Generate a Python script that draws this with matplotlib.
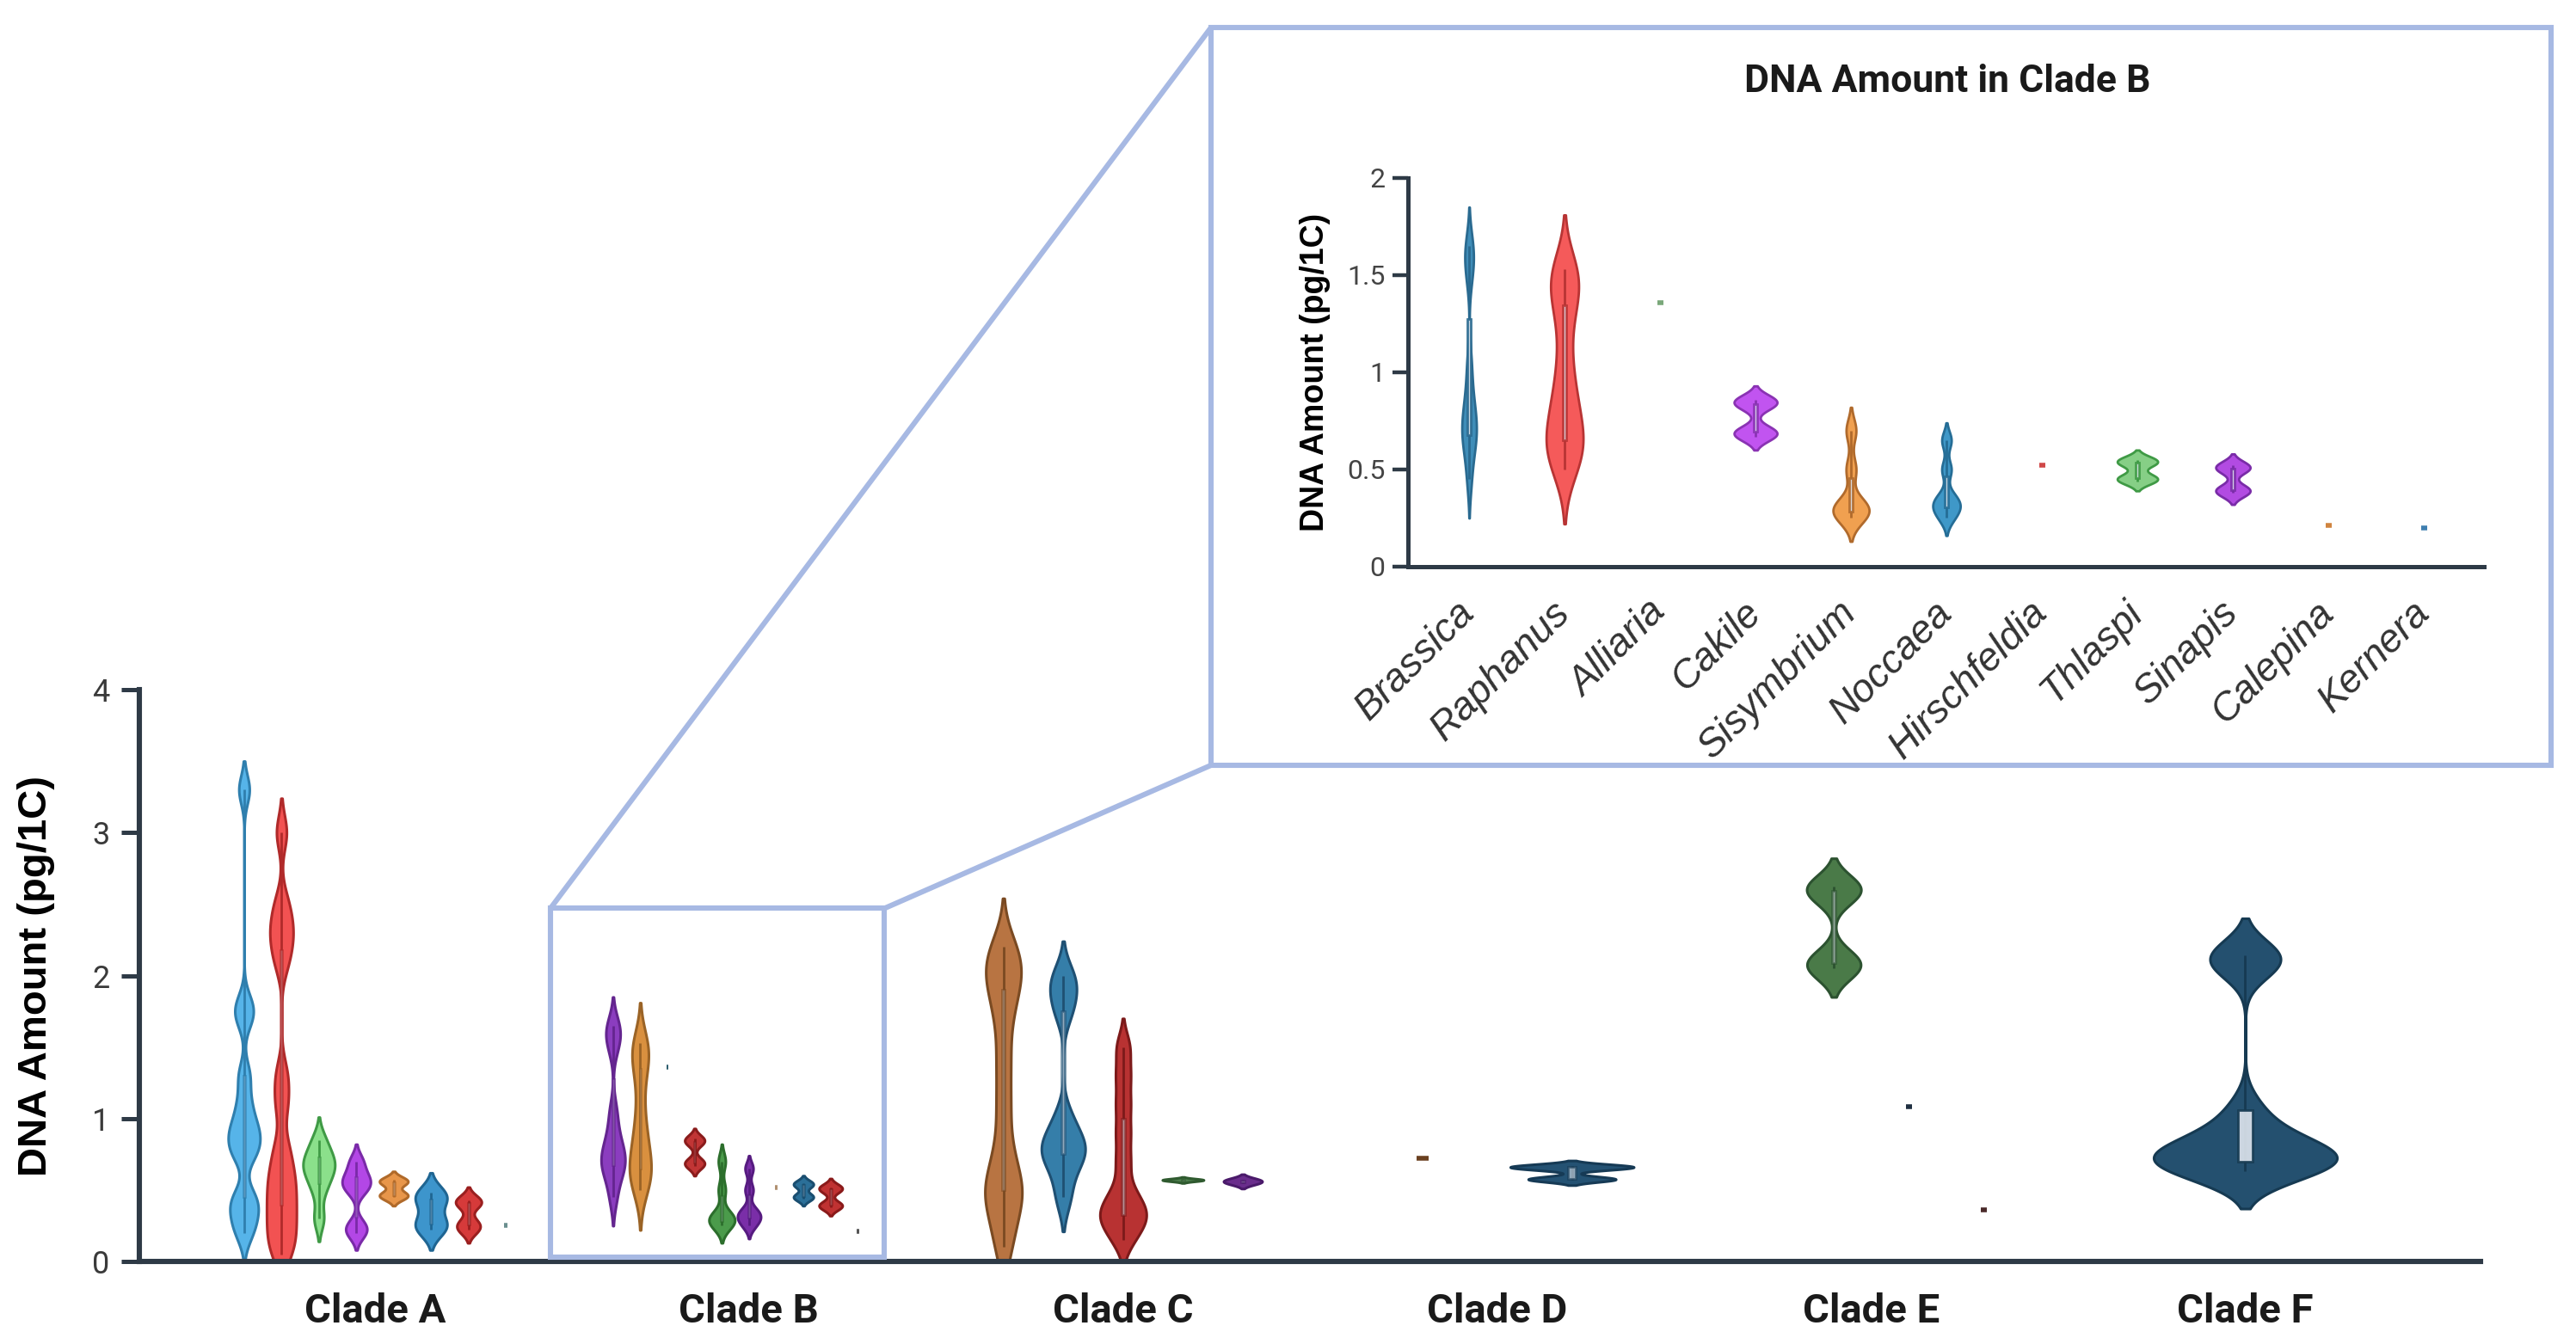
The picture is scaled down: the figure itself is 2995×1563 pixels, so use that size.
import numpy as np
import matplotlib
matplotlib.use("Agg")
import matplotlib.pyplot as plt
from matplotlib.patches import Rectangle, ConnectionPatch

# DNA amount (pg/1C) per genus, grouped by clade
clades = ["Clade A", "Clade B", "Clade C", "Clade D", "Clade E", "Clade F"]

clade_a = [
    [0.2, 0.3, 0.4, 0.45, 0.75, 0.8, 0.9, 0.95, 1.1, 1.3, 1.7, 1.8, 3.3],
    [0.05, 0.15, 0.25, 0.35, 0.45, 0.55, 0.65, 0.8, 1.1, 1.3, 2.1, 2.25, 2.35, 2.5, 3.0],
    [0.3, 0.5, 0.6, 0.65, 0.7, 0.75, 0.85],
    [0.2, 0.25, 0.5, 0.55, 0.6, 0.7],
    [0.45, 0.47, 0.55, 0.57],
    [0.22, 0.28, 0.42, 0.48],
    [0.22, 0.27, 0.4, 0.43],
    [0.25],
]

# Clade B genera (also shown in the inset)
genera_b = ["Brassica", "Raphanus", "Alliaria", "Cakile", "Sisymbrium", "Noccaea",
            "Hirschfeldia", "Thlaspi", "Sinapis", "Calepina", "Kernera"]
brassica = [0.45, 0.6, 0.65, 0.7, 0.75, 0.8, 0.9, 1.05, 1.5, 1.6, 1.65]
raphanus = [0.5, 0.6, 0.62, 0.68, 0.8, 0.88, 1.05, 1.27, 1.42, 1.48, 1.53]
alliaria = [1.36]
cakile = [0.67, 0.7, 0.83, 0.86]
sisymbrium = [0.25, 0.28, 0.3, 0.32, 0.5, 0.7]
noccaea = [0.25, 0.3, 0.32, 0.36, 0.5, 0.65]
hirschfeldia = [0.52]
thlaspi = [0.44, 0.46, 0.53, 0.55]
sinapis = [0.38, 0.4, 0.5, 0.52]
calepina = [0.21]
kernera = [0.2]
clade_b = [brassica, raphanus, alliaria, cakile, sisymbrium, noccaea,
           hirschfeldia, thlaspi, sinapis, calepina, kernera]

clade_c = [
    [0.1, 0.3, 0.45, 0.5, 0.6, 0.8, 1.1, 1.4, 1.7, 1.9, 2.0, 2.1, 2.2],
    [0.45, 0.65, 0.75, 0.8, 0.85, 1.0, 1.75, 1.9, 2.0],
    [0.15, 0.25, 0.3, 0.35, 0.4, 0.5, 0.7, 0.9, 1.1, 1.3, 1.5],
    [0.565, 0.57, 0.575],
    [0.55, 0.57],
]
clade_d = [[0.72], [0.57, 0.58, 0.65, 0.66, 0.67]]
clade_e = [[], [2.05, 2.1, 2.58, 2.62], [1.08], [0.36]]
clade_f = [[0.63, 0.65, 0.67, 0.7, 0.72, 0.74, 0.77, 0.82, 0.9, 1.06, 2.08, 2.12, 2.14]]

main_groups = [clade_a, clade_b, clade_c, clade_d, clade_e, clade_f]

# styling: face / edge colours, max violin widths, kde bandwidths
faces = [
    ["#56b4e9", "#f25252", "#8be08b", "#b347e6", "#e8964a", "#3d95cc", "#d63a3a", "#6a8f8f"],
    ["#8b3dbf", "#d9903f", "#2f5f70", "#c13535", "#4b9b4b", "#7a2ea8", "#b09070", "#2b6f98", "#c03232", "#555555", "#56607a"],
    ["#b87442", "#357ea9", "#b83232", "#4e7f4e", "#6a2d8c"],
    ["#8a5a3a", "#245273"],
    ["#ffffff", "#4a7a48", "#1f2f40", "#4a2a2a"],
    ["#24506f"],
]
edges = [
    ["#2f7fae", "#b02a2a", "#3f9a45", "#7a2aa8", "#b06a2a", "#1f6592", "#9a1f1f", "#6a8f8f"],
    ["#64258f", "#9a6326", "#2f5f70", "#8a1c1c", "#2c6e2c", "#561b80", "#b09070", "#1a4e70", "#8a1a1a", "#555555", "#56607a"],
    ["#7a4a22", "#1f5073", "#7c1a1a", "#2f5a2f", "#4a1a6a"],
    ["#6a4020", "#163a55"],
    ["#ffffff", "#2c5230", "#1f2f40", "#4a2a2a"],
    ["#163a52"],
]
b_bw = [0.1, 0.14, 0, 0.035, 0.06, 0.045, 0, 0.025, 0.03, 0, 0]
bws = [
    [0.1, 0.12, 0.08, 0.06, 0.03, 0.07, 0.045, 0],
    b_bw,
    [0.17, 0.12, 0.1, 0.008, 0.02],
    [0, 0.018],
    [0, 0.1, 0, 0],
    [0.13],
]
widths = [
    [0.085, 0.080, 0.085, 0.076, 0.076, 0.085, 0.069, 0],
    [0.064, 0.058, 0, 0.053, 0.069, 0.062, 0, 0.053, 0.062, 0, 0],
    [0.099, 0.117, 0.124, 0.110, 0.103],
    [0, 0.33],
    [0, 0.145, 0, 0],
    [0.49],
]

inset_faces = ["#3f8db8", "#f55a5a", "#7aa87a", "#c154f0", "#f0a050", "#3f98c8",
               "#d04848", "#86cf86", "#b24be2", "#d0843f", "#3f7fb0"]
inset_edges = ["#2a6a90", "#b83434", "#7aa87a", "#8a33b3", "#b06a2c", "#256d96",
               "#d04848", "#3f9a45", "#7a2ca8", "#d0843f", "#3f7fb0"]
inset_widths = [0.153, 0.387, 0, 0.45, 0.378, 0.288, 0, 0.423, 0.36, 0, 0]

frame_color = "#a7b9e3"
spine_color = "#2e3a46"


def kde_stats(values, bw):
    v = np.asarray(values, dtype=float)
    y = np.linspace(v.min() - 2 * bw, v.max() + 2 * bw, 400)
    dens = np.exp(-0.5 * ((y[:, None] - v[None, :]) / bw) ** 2).sum(axis=1)
    return dict(coords=y, vals=dens, mean=v.mean(), median=np.median(v),
                min=v.min(), max=v.max())


def draw_group(ax, groups, positions, slot, fcs, ecs, wids, bw_list, lw=1.1):
    for vals, x, fc, ec, w, bw in zip(groups, positions, fcs, ecs, wids, bw_list):
        if len(vals) == 0:
            continue
        if len(vals) == 1:
            ax.hlines(vals[0], x - 0.04 * slot, x + 0.04 * slot, color=ec, lw=2.0, zorder=3)
            continue
        parts = ax.violin([kde_stats(vals, bw)], positions=[x], widths=w,
                          showmeans=False, showextrema=False, showmedians=False)
        for body in parts["bodies"]:
            body.set_facecolor(fc)
            body.set_edgecolor(ec)
            body.set_alpha(1)
            body.set_linewidth(lw)
            body.set_zorder(2)
        # inner box: whisker line + interquartile box
        q1, q3 = np.percentile(vals, [25, 75])
        ax.vlines(x, min(vals), max(vals), color=ec, lw=1.0, zorder=3)
        bw_box = 0.05 * slot
        # wide slots get an opaque light box, narrow ones a faint stripe
        box_alpha = 0.9 if slot > 0.5 else 0.6
        ax.add_patch(Rectangle((x - bw_box / 2, q1), bw_box, q3 - q1, facecolor="#dfe6ee",
                               edgecolor=ec, lw=1.0, alpha=box_alpha, zorder=4))


fig = plt.figure(figsize=(14.975, 7.815), dpi=200)

# ---- main chart ----
ax = fig.add_axes([0.0541, 0.0614, 0.909, 0.4255])
for i, groups in enumerate(main_groups):
    n = len(groups)
    slot = 0.8 / n
    positions = [i - 0.4 + (k + 0.5) * slot for k in range(n)]
    draw_group(ax, groups, positions, slot, faces[i], edges[i], widths[i], bws[i])

ax.set_xlim(-0.63, 5.63)
ax.set_ylim(0, 4)
ax.set_xticks(range(len(clades)))
ax.set_xticklabels(clades, fontfamily="Roboto", fontweight="bold", fontsize=17, color="#1a1a1a")
ax.set_yticks([0, 1, 2, 3, 4])
ax.set_yticklabels(["0", "1", "2", "3", "4"], fontfamily="Roboto", fontsize=13, color="#3a3a3a")
ax.tick_params(axis="x", length=0, pad=13)
ax.tick_params(axis="y", length=7.5, width=1.8, color=spine_color, pad=5)
ax.set_ylabel("DNA Amount (pg/1C)", fontfamily="Liberation Sans", fontweight="bold", fontsize=17)
ax.yaxis.set_label_coords(-0.036, 0.5)
for s in ["top", "right"]:
    ax.spines[s].set_visible(False)
for s in ["left", "bottom"]:
    ax.spines[s].set_linewidth(2.2)
    ax.spines[s].set_color(spine_color)

# highlight box around clade B
ax.add_patch(Rectangle((0.469, 0.03), 0.893, 2.44, fill=False, edgecolor=frame_color,
                       lw=2.2, zorder=5, clip_on=False))

# ---- inset for clade B ----
frame_x0, frame_y0, frame_w, frame_h = 0.4701, 0.4306, 0.5202, 0.5489
fig.add_artist(Rectangle((frame_x0, frame_y0), frame_w, frame_h, transform=fig.transFigure,
                         fill=False, edgecolor=frame_color, lw=2.2))
fig.add_artist(ConnectionPatch(xyA=(0.469, 2.47), coordsA=ax.transData,
                               xyB=(frame_x0, frame_y0 + frame_h), coordsB=fig.transFigure,
                               color=frame_color, lw=2.2))
fig.add_artist(ConnectionPatch(xyA=(1.362, 2.47), coordsA=ax.transData,
                               xyB=(frame_x0, frame_y0), coordsB=fig.transFigure,
                               color=frame_color, lw=2.2))

axi = fig.add_axes([0.5466, 0.5784, 0.4177, 0.2892])
axi.patch.set_alpha(0)
draw_group(axi, clade_b, list(range(len(genera_b))), 0.8, inset_faces, inset_edges,
           inset_widths, b_bw, lw=1.0)
axi.set_xlim(-0.64, 10.63)
axi.set_ylim(0, 2)
axi.set_xticks(range(len(genera_b)))
axi.set_xticklabels(genera_b, rotation=45, ha="right", va="center", rotation_mode="anchor",
                    fontfamily="Liberation Sans", fontstyle="italic", fontsize=16.5, color="#333333")
axi.set_yticks([0, 0.5, 1, 1.5, 2])
axi.set_yticklabels(["0", "0.5", "1", "1.5", "2"], fontfamily="Roboto", fontsize=11.5, color="#444444")
axi.tick_params(axis="x", length=0, pad=17)
axi.tick_params(axis="y", length=6.5, width=1.6, color=spine_color, pad=3)
axi.set_ylabel("DNA Amount (pg/1C)", fontfamily="Liberation Sans", fontweight="bold", fontsize=13.5)
axi.yaxis.set_label_coords(-0.072, 0.5)
for s in ["top", "right"]:
    axi.spines[s].set_visible(False)
for s in ["left", "bottom"]:
    axi.spines[s].set_linewidth(1.8)
    axi.spines[s].set_color(spine_color)

fig.text(0.756, 0.939, "DNA Amount in Clade B", ha="center", va="center",
         fontfamily="Roboto", fontweight="bold", fontsize=16, color="#1a1a1a")

fig.savefig("out.png", dpi=200)
